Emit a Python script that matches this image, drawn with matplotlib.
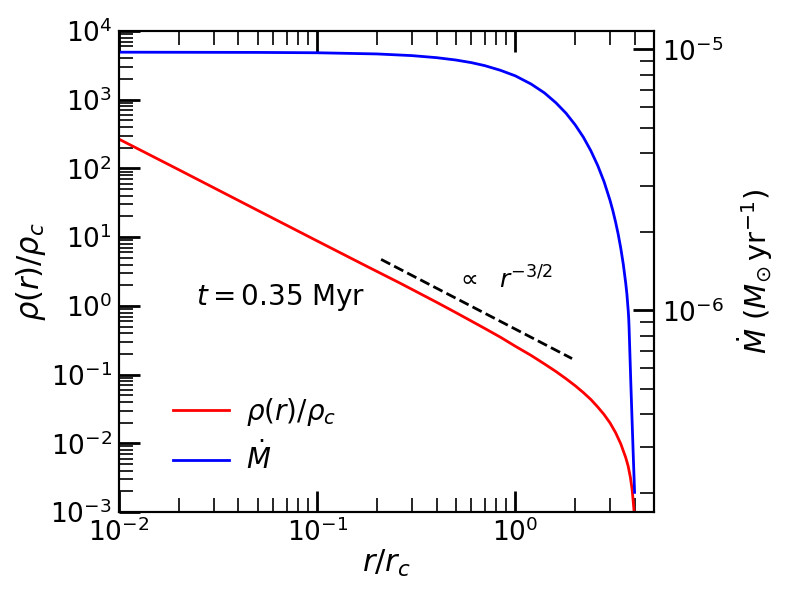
import matplotlib
matplotlib.use("Agg")
import matplotlib.pyplot as plt
from matplotlib.ticker import LogLocator, NullFormatter

# --- data ---
r_rho = [0.01, 0.02, 0.05, 0.1, 0.18, 0.262, 0.4, 0.5, 0.7, 0.84, 1.0, 1.2, 1.4,
         1.6, 1.8, 2.0, 2.2, 2.4, 2.6, 2.8, 3.0, 3.2, 3.4, 3.6, 3.7, 3.8, 3.88,
         3.93, 3.97, 4.0]
rho = [267, 96, 24.6, 8.8, 3.7, 2.14, 1.13, 0.80, 0.47, 0.35, 0.258, 0.19, 0.143,
       0.111, 0.087, 0.069, 0.0548, 0.0435, 0.0338, 0.0262, 0.0198, 0.0143, 0.0098,
       0.0062, 0.0047, 0.0032, 0.0021, 0.0014, 0.001, 0.0006]

r_mdot = [0.01, 0.05, 0.1, 0.2, 0.3, 0.4, 0.5, 0.6, 0.7, 0.84, 1.0, 1.2, 1.4, 1.6,
          1.8, 2.0, 2.2, 2.4, 2.6, 2.8, 3.0, 3.1, 3.2, 3.3, 3.4, 3.5, 3.6, 3.65,
          3.709, 3.728, 3.743, 3.822, 3.926, 3.99]
mdot = [9.75e-6, 9.73e-6, 9.70e-6, 9.60e-6, 9.46e-6, 9.29e-6, 9.10e-6, 8.89e-6,
        8.66e-6, 8.31e-6, 7.91e-6, 7.36e-6, 6.81e-6, 6.24e-6, 5.69e-6, 5.14e-6,
        4.61e-6, 4.09e-6, 3.59e-6, 3.11e-6, 2.64e-6, 2.41e-6, 2.18e-6, 1.955e-6,
        1.728e-6, 1.502e-6, 1.272e-6, 1.154e-6, 9.9e-7, 9.27e-7, 8.6e-7, 5.2e-7,
        2.84e-7, 2.01e-7]

r_slope = [0.21, 1.93]
y_slope = [4.75, 0.171]

fig = plt.figure(figsize=(7.89, 5.92), dpi=100)
ax = fig.add_axes([0.1508, 0.1351, 0.6781, 0.8125])
ax2 = ax.twinx()

l1, = ax.plot(r_rho, rho, color='red', lw=2, label=r'$\rho(r)/\rho_c$')
ax.plot(r_slope, y_slope, color='black', ls='--', lw=2)
l2, = ax2.plot(r_mdot, mdot, color='blue', lw=2, label=r'$\dot{M}$')

ax.set_xscale('log')
ax.set_yscale('log')
ax2.set_yscale('log')
ax.set_xlim(0.01, 5)
ax.set_ylim(1e-3, 1e4)
ax2.set_ylim(1.69e-7, 1.175e-5)

for a in (ax, ax2):
    for s in a.spines.values():
        s.set_linewidth(1.5)

ax.yaxis.set_major_locator(LogLocator(base=10, numticks=20))
ax.yaxis.set_minor_locator(LogLocator(base=10, subs=range(2, 10), numticks=20))
ax.yaxis.set_minor_formatter(NullFormatter())
ax.tick_params(axis='both', which='major', direction='in', length=15, width=2,
               labelsize=19, top=True, right=False, pad=5)
ax.tick_params(axis='both', which='minor', direction='in', length=10, width=1.2,
               top=True, right=False)
ax2.tick_params(axis='y', which='major', direction='in', length=15, width=2,
                labelsize=19, pad=6)
ax2.tick_params(axis='y', which='minor', direction='in', length=10, width=1.2)
ax2.yaxis.set_minor_formatter(NullFormatter())

ax.set_xlabel(r'$r/r_c$', fontsize=22, labelpad=0)
ax.set_ylabel(r'$\rho(r)/\rho_c$', fontsize=22, labelpad=2)
ax2.set_ylabel(r'$\dot{M}\ (M_{\odot}\,{\rm yr}^{-1})$', fontsize=21, labelpad=8)

ax.text(0.303, 0.445, r'$t = 0.35$ Myr', transform=ax.transAxes, fontsize=20,
        ha='center', va='center')
ax.text(0.72, 0.482, r'$\propto$  $r^{-3/2}$', transform=ax.transAxes, fontsize=18,
        ha='center', va='center')

ax.legend(handles=[l1, l2], loc='lower left', bbox_to_anchor=(0.055, 0.024),
          frameon=False, fontsize=20, handlelength=2.0, handletextpad=0.6)

fig.savefig('out.png', dpi=100)
